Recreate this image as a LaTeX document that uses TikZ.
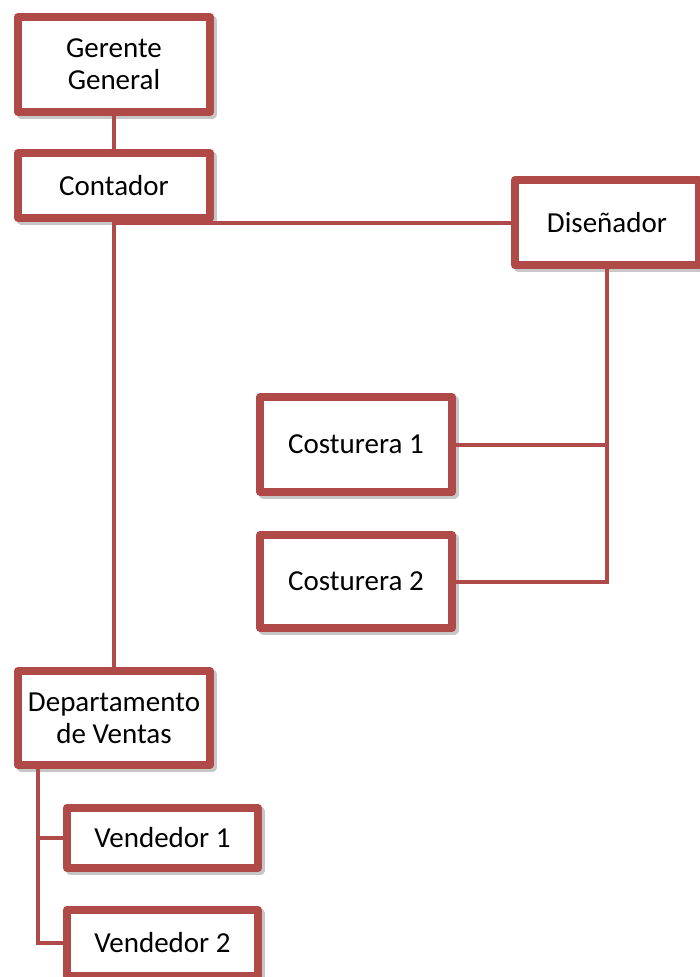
\documentclass[tikz,border=0pt]{standalone}
\usepackage{fontspec}
\setmainfont{Carlito}
\definecolor{boxred}{RGB}{176,74,72}
\tikzset{
  orgbox/.style={draw=boxred, line width=8pt, fill=white, line join=round,
    inner sep=0pt, align=center, font=\fontsize{29}{32}\selectfont,
    preaction={draw=black!22, line width=8pt, transform canvas={shift={(2.5pt,-2.5pt)}}}},
  link/.style={draw=boxred, line width=4pt}
}
\begin{document}
\begin{tikzpicture}[x=1pt,y=-1pt]
\useasboundingbox (0,0) rectangle (700,977);
\node[orgbox, minimum width=192pt, minimum height=95pt] (ger) at (114,64.5) {Gerente\\General};
\node[orgbox, minimum width=192pt, minimum height=65pt] (con) at (114,185.5) {Contador};
\node[orgbox, minimum width=184pt, minimum height=85pt] (dis) at (607,222.5) {Diseñador};
\node[orgbox, minimum width=192pt, minimum height=95pt] (cos1) at (356,444.5) {Costurera 1};
\node[orgbox, minimum width=192pt, minimum height=93pt] (cos2) at (356,581.5) {Costurera 2};
\node[orgbox, minimum width=192pt, minimum height=94pt] (dep) at (114,718) {Departamento\\de Ventas};
\node[orgbox, minimum width=191pt, minimum height=60pt] (ven1) at (162.5,838) {Vendedor 1};
\node[orgbox, minimum width=191pt, minimum height=66pt] (ven2) at (162.5,943) {Vendedor 2};
\coordinate (dv) at ([xshift=-76pt]dep.south);
\path[link] (ger.south) -- (con.north);
\path[link] (con.south) -- (dep.north);
\path[link] (dis.west) -- (dis.west -| con.south);
\path[link] (dis.south) |- (cos2.east);
\path[link] (cos1.east) -| (dis.south);
\path[link] (dv) |- (ven2.west);
\path[link] (dv) |- (ven1.west);
\end{tikzpicture}
\end{document}
